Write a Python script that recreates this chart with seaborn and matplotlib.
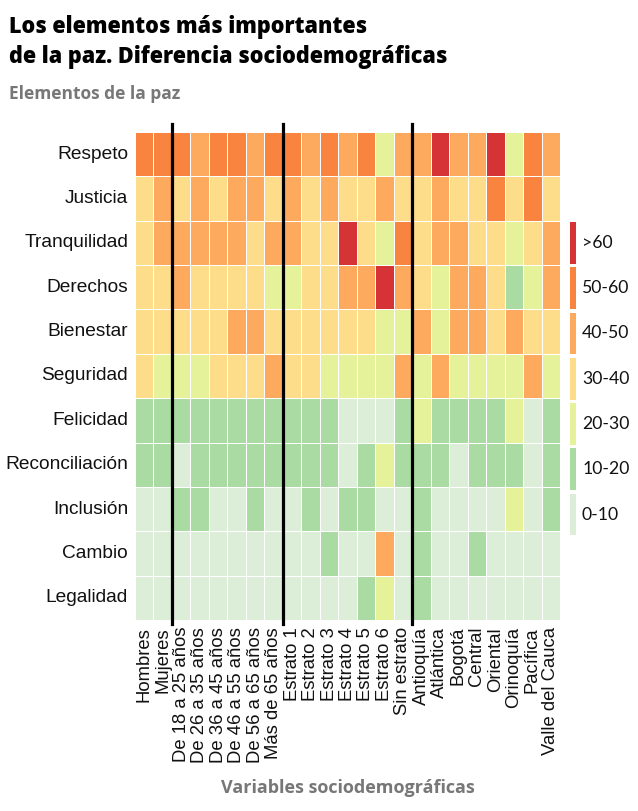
import numpy as np
import pandas as pd
import matplotlib
matplotlib.use("Agg")
import matplotlib.pyplot as plt
from matplotlib.colors import ListedColormap, BoundaryNorm
import seaborn as sns

# ---------------- data ----------------
columns = ["Hombres", "Mujeres", "De 18 a 25 años", "De 26 a 35 años", "De 36 a 45 años",
           "De 46 a 55 años", "De 56 a 65 años", "Más de 65 años", "Estrato 1", "Estrato 2",
           "Estrato 3", "Estrato 4", "Estrato 5", "Estrato 6", "Sin estrato", "Antioquía",
           "Atlántica", "Bogotá", "Central", "Oriental", "Orinoquía", "Pacífica", "Valle del Cauca"]
rows = ["Respeto", "Justicia", "Tranquilidad", "Derechos", "Bienestar", "Seguridad",
        "Felicidad", "Reconciliación", "Inclusión", "Cambio", "Legalidad"]

respeto        = [55, 55, 55, 45, 55, 55, 45, 55, 55, 45, 55, 45, 55, 25, 45, 45, 65, 45, 45, 65, 25, 55, 45]
justicia       = [35, 45, 35, 45, 35, 45, 45, 35, 45, 35, 45, 35, 35, 45, 35, 35, 45, 35, 35, 55, 35, 55, 35]
tranquilidad   = [35, 45, 45, 45, 45, 45, 35, 45, 45, 35, 35, 65, 35, 25, 55, 35, 45, 45, 35, 35, 25, 35, 45]
derechos       = [35, 35, 45, 35, 35, 35, 35, 25, 25, 35, 35, 45, 45, 65, 45, 35, 25, 45, 45, 35, 15, 25, 45]
bienestar      = [35, 35, 35, 35, 35, 45, 45, 35, 35, 35, 35, 35, 35, 25, 25, 45, 25, 45, 45, 35, 45, 35, 35]
seguridad      = [35, 25, 25, 25, 35, 35, 35, 45, 35, 35, 25, 25, 25, 25, 45, 25, 45, 25, 25, 25, 25, 45, 25]
felicidad      = [15, 15, 15, 15, 15, 15, 15, 15, 15, 15, 15, 5, 5, 5, 15, 25, 15, 15, 15, 15, 25, 5, 15]
reconciliacion = [15, 15, 5, 15, 15, 15, 15, 15, 15, 15, 15, 5, 15, 25, 15, 15, 15, 5, 15, 15, 15, 5, 15]
inclusion      = [5, 5, 15, 15, 5, 5, 15, 5, 5, 15, 5, 15, 15, 5, 5, 15, 5, 5, 5, 5, 25, 5, 15]
cambio         = [5, 5, 5, 5, 5, 5, 5, 5, 5, 5, 15, 5, 5, 45, 5, 15, 5, 5, 15, 5, 5, 5, 5]
legalidad      = [5, 5, 5, 5, 5, 5, 5, 5, 5, 5, 5, 5, 15, 25, 5, 15, 5, 5, 5, 5, 5, 5, 5]

bin_edges = [0, 10, 20, 30, 40, 50, 60, 100]
bin_labels = ["0-10", "10-20", "20-30", "30-40", "40-50", "50-60", ">60"]
bin_colors = ["#dceed8", "#a9dba2", "#e6f29a", "#fddc8a", "#fdaa5f", "#f8843f", "#d63337"]
group_breaks = [2, 8, 15]

df = pd.DataFrame([respeto, justicia, tranquilidad, derechos, bienestar, seguridad,
                   felicidad, reconciliacion, inclusion, cambio, legalidad],
                  index=rows, columns=columns)

# ---------------- plot ----------------
W, H = 638, 811
fig = plt.figure(figsize=(W / 100, H / 100), dpi=100)
left, right, top, bottom = 135, 560, 132, 620
ax = fig.add_axes([left / W, 1 - bottom / H, (right - left) / W, (bottom - top) / H])

cmap = ListedColormap(bin_colors)
norm = BoundaryNorm(bin_edges, cmap.N)
sns.heatmap(df, ax=ax, cmap=cmap, norm=norm, cbar=False, linewidths=0.6,
            linecolor="white", square=False)

for b in group_breaks:
    ax.axvline(b, ymin=-0.009, ymax=1.017, color="black", lw=2.3, clip_on=False)

ax.tick_params(length=0, pad=5)
ax.set_yticklabels(rows, rotation=0, fontsize=13.8, family="Liberation Sans", color="#111111")
ax.set_xticklabels(columns, rotation=90, fontsize=13.3, family="Liberation Sans", color="#111111")
ax.set_xlabel("")
ax.set_ylabel("")

# titles
tfont = "Open Sans"
fig.text(9 / W, 1 - 33 / H, "Los elementos más importantes", fontsize=15.6, fontweight=800,
         family=tfont, color="black", va="baseline")
fig.text(9 / W, 1 - 63 / H, "de la paz. Diferencia sociodemográficas", fontsize=15.6,
         fontweight=800, family=tfont, color="black", va="baseline")
fig.text(9 / W, 1 - 99 / H, "Elementos de la paz", fontsize=12.5, fontweight="bold",
         family=tfont, color="#777777", va="baseline")
fig.text(((left + right) / 2) / W, 1 - 793 / H, "Variables sociodemográficas", fontsize=13,
         fontweight="bold", family=tfont, color="#777777", ha="center", va="baseline")

# legend (vertical swatches)
lg_top, lg_bot, lg_left, lg_w = 222, 539, 570, 6
lax = fig.add_axes([lg_left / W, 1 - lg_bot / H, lg_w / W, (lg_bot - lg_top) / H])
lax.set_xlim(0, 1)
lax.set_ylim(len(bin_labels), 0)
for i, (lab, col) in enumerate(zip(bin_labels[::-1], bin_colors[::-1])):
    lax.bar(0.5, 0.92, bottom=i, width=1, color=col, edgecolor="none")
    lax.text(2.0, i + 0.46, lab, fontsize=12.7, family="Lato", color="#111111",
             ha="left", va="center", clip_on=False)
lax.axis("off")

fig.savefig("out.png", dpi=100, facecolor="white")
